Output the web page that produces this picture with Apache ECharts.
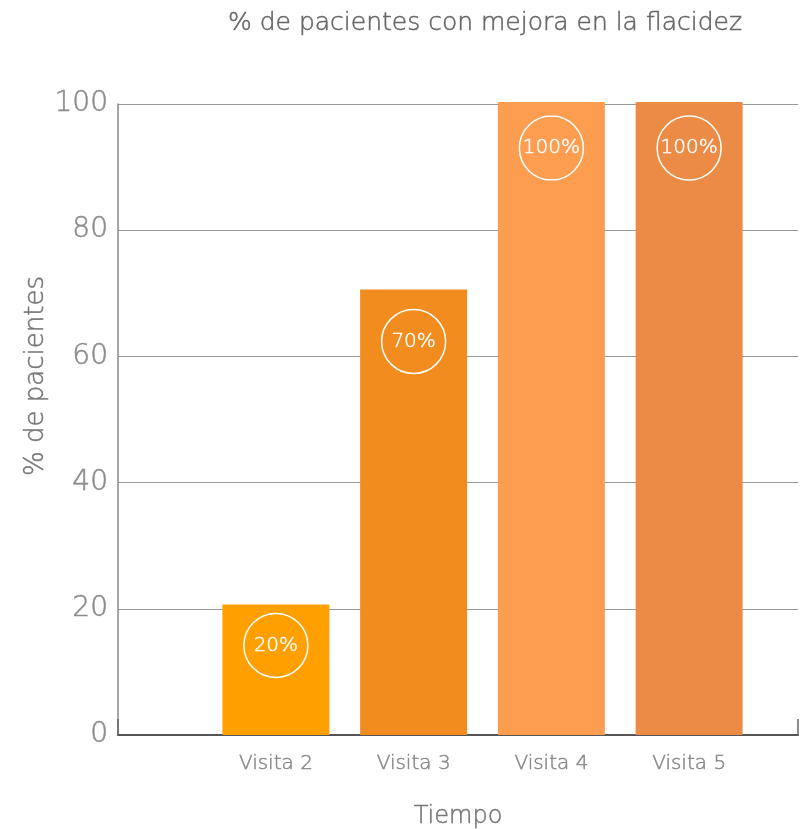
<!DOCTYPE html>
<html>
<head>
<meta charset="utf-8">
<script src="https://cdn.jsdelivr.net/npm/echarts@6/dist/echarts.min.js"></script>
<style>html,body{margin:0;padding:0;background:#fff}#c{width:803px;height:829px}</style>
</head>
<body>
<div id="c"></div>
<script>
const categories = ["Visita 2", "Visita 3", "Visita 4", "Visita 5"];
const values = [20.7, 70.6, 100.3, 100.3];
const valueLabels = ["20%", "70%", "100%", "100%"];
const barColors = ["#FFA000", "#F28C1E", "#FC9D4F", "#EB8B45"];
const yTicks = [0, 20, 40, 60, 80, 100];

const FONT = "'DejaVu Sans', sans-serif";
const W = 200;
const TB = 0.5;
const labelDist = [9, 20, 14, 14];
function txt(size, color) {
  return { fontFamily: FONT, fontWeight: W, fontSize: size, color: color, textBorderColor: color, textBorderWidth: TB };
}
const chart = echarts.init(document.getElementById('c'));
chart.setOption({
  animation: false,
  title: {
    text: "% de pacientes con mejora en la flacidez",
    left: 480, top: 6, textAlign: 'center',
    textStyle: txt(25, '#666')
  },
  grid: [
    { left: 118, right: 5, top: 104, bottom: 94, containLabel: false, outerBoundsMode: 'none' },
    { left: 207, right: 45, top: 104, bottom: 94, containLabel: false, outerBoundsMode: 'none' }
  ],
  xAxis: [
    {
      gridIndex: 0, type: 'category', data: [''],
      name: 'Tiempo', nameLocation: 'middle', nameGap: 70, nameMoveOverlap: false,
      nameTextStyle: txt(24, '#777'),
      axisLine: { lineStyle: { color: '#555', width: 2 } },
      axisTick: { show: true, inside: true, length: 16, lineStyle: { color: '#666', width: 1.5 } },
      axisLabel: { show: false }
    },
    {
      gridIndex: 1, type: 'category', data: categories,
      axisLine: { show: false }, axisTick: { show: false },
      axisLabel: Object.assign(txt(20, '#888'), { margin: 19 })
    }
  ],
  yAxis: [
    {
      gridIndex: 0, type: 'value', min: 0, max: 100, interval: 20,
      name: '% de pacientes', nameLocation: 'middle', nameGap: 69, nameRotate: 90, nameMoveOverlap: false,
      nameTextStyle: Object.assign(txt(26, '#777'), { padding: [0, 0, 0, 87] }),
      axisLine: { show: true, lineStyle: { color: '#8a8a8a', width: 1.5 } },
      axisTick: { show: false },
      splitLine: { lineStyle: { color: '#999', width: 1 } },
      axisLabel: Object.assign(txt(28, '#8c8c8c'), { margin: 10,
        formatter: v => yTicks.includes(v) ? String(v) : '' })
    },
    {
      gridIndex: 1, type: 'value', min: 0, max: 100, interval: 20, show: false
    }
  ],
  series: [{
    type: 'bar', xAxisIndex: 1, yAxisIndex: 1, clip: false,
    barWidth: 107,
    data: values.map((v, i) => ({ value: v, itemStyle: { color: barColors[i] }, label: { distance: labelDist[i] } })),
    label: Object.assign(txt(20, '#fff'), {
      show: true, position: 'insideTop',
      formatter: p => valueLabels[p.dataIndex],
      width: 64, height: 64, lineHeight: 64, align: 'center',
      borderColor: '#fff', borderWidth: 1.5, borderRadius: 32
    })
  }]
});
</script>
</body>
</html>
